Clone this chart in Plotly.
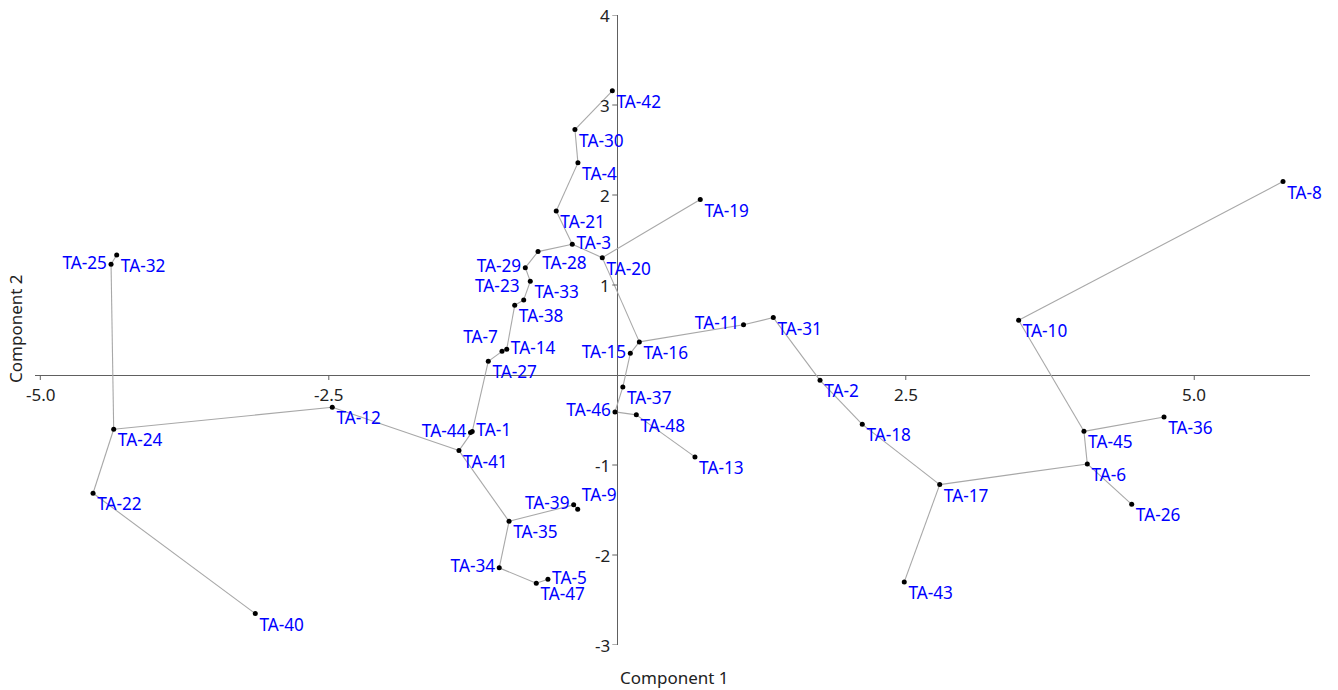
import plotly.graph_objects as go

# ---- data ----
labels = ["TA-1", "TA-2", "TA-3", "TA-4", "TA-5", "TA-6", "TA-7", "TA-8", "TA-9", "TA-10",
          "TA-11", "TA-12", "TA-13", "TA-14", "TA-15", "TA-16", "TA-17", "TA-18", "TA-19", "TA-20",
          "TA-21", "TA-22", "TA-23", "TA-24", "TA-25", "TA-26", "TA-27", "TA-28", "TA-29", "TA-30",
          "TA-31", "TA-32", "TA-33", "TA-34", "TA-35", "TA-36", "TA-37", "TA-38", "TA-39", "TA-40",
          "TA-41", "TA-42", "TA-43", "TA-44", "TA-45", "TA-46", "TA-47", "TA-48"]

comp1 = [-1.257, 1.757, -0.390, -0.341, -0.601, 4.073, -0.999, 5.769, -0.343, 3.478,
         1.094, -2.470, 0.673, -0.958, 0.113, 0.191, 2.794, 2.123, 0.719, -0.130,
         -0.529, -4.543, -0.811, -4.364, -4.387, 4.458, -1.118, -0.687, -0.797, -0.367,
         1.352, -4.338, -0.754, -1.023, -0.938, 4.738, 0.048, -0.889, -0.378, -3.137,
         -1.372, -0.043, 2.487, -1.272, 4.044, -0.020, -0.702, 0.165]

comp2 = [-0.629, -0.059, 1.452, 2.357, -2.270, -0.988, 0.263, 2.149, -1.492, 0.608,
         0.558, -0.359, -0.910, 0.286, 0.241, 0.368, -1.218, -0.548, 1.949, 1.304,
         1.823, -1.314, 0.834, -0.603, 1.230, -1.437, 0.152, 1.371, 1.193, 2.727,
         0.638, 1.334, 1.041, -2.143, -1.626, -0.466, -0.134, 0.774, -1.443, -2.651,
         -0.840, 3.157, -2.299, -0.640, -0.626, -0.410, -2.314, -0.443]

# minimum spanning tree edges (pairs of labels)
edges = [("TA-32", "TA-25"), ("TA-25", "TA-24"), ("TA-24", "TA-22"), ("TA-22", "TA-40"),
         ("TA-24", "TA-12"), ("TA-12", "TA-41"), ("TA-41", "TA-1"), ("TA-1", "TA-27"),
         ("TA-41", "TA-35"), ("TA-35", "TA-39"), ("TA-39", "TA-9"), ("TA-35", "TA-34"),
         ("TA-34", "TA-47"), ("TA-47", "TA-5"), ("TA-44", "TA-1"), ("TA-27", "TA-7"),
         ("TA-7", "TA-14"), ("TA-14", "TA-38"), ("TA-38", "TA-23"), ("TA-23", "TA-33"),
         ("TA-33", "TA-29"), ("TA-29", "TA-28"), ("TA-28", "TA-3"), ("TA-3", "TA-21"),
         ("TA-21", "TA-4"), ("TA-4", "TA-30"), ("TA-30", "TA-42"), ("TA-3", "TA-20"),
         ("TA-20", "TA-19"), ("TA-20", "TA-16"), ("TA-16", "TA-15"), ("TA-15", "TA-37"),
         ("TA-37", "TA-46"), ("TA-46", "TA-48"), ("TA-48", "TA-13"), ("TA-16", "TA-11"),
         ("TA-11", "TA-31"), ("TA-31", "TA-2"), ("TA-2", "TA-18"), ("TA-18", "TA-17"),
         ("TA-17", "TA-43"), ("TA-17", "TA-6"), ("TA-6", "TA-45"), ("TA-6", "TA-26"),
         ("TA-45", "TA-36"), ("TA-45", "TA-10"), ("TA-10", "TA-8")]

x_ticks = [-5.0, -2.5, 2.5, 5.0]
x_tick_text = ["-5.0", "-2.5", "2.5", "5.0"]
y_ticks = [4, 3, 2, 1, -1, -2, -3]
y_tick_text = ["4", "3", "2", "1", "-1", "-2", "-3"]

# label placement per point (style only)
left_labels = {"TA-25", "TA-29", "TA-11", "TA-15", "TA-46", "TA-44", "TA-39", "TA-34"}
right_labels = {"TA-3", "TA-14", "TA-1", "TA-5"}
top_left_labels = {"TA-23", "TA-7"}
top_right_labels = {"TA-9"}


def pos_for(lbl):
    if lbl in left_labels:
        return "middle left"
    if lbl in right_labels:
        return "middle right"
    if lbl in top_left_labels:
        return "top left"
    if lbl in top_right_labels:
        return "top right"
    return "bottom right"


idx = {l: i for i, l in enumerate(labels)}
ex, ey = [], []
for a, b in edges:
    ex += [comp1[idx[a]], comp1[idx[b]], None]
    ey += [comp2[idx[a]], comp2[idx[b]], None]

FONT = "Noto Sans, Open Sans, DejaVu Sans, sans-serif"

fig = go.Figure()
fig.add_trace(go.Scatter(x=ex, y=ey, mode="lines",
                         line=dict(color="#a8a8a8", width=1.1),
                         hoverinfo="skip", showlegend=False))
fig.add_trace(go.Scatter(x=comp1, y=comp2, mode="markers+text",
                         text=labels, textposition=[pos_for(l) for l in labels],
                         textfont=dict(family=FONT, size=17.2, color="#0000ff"),
                         marker=dict(color="black", size=5),
                         cliponaxis=False, showlegend=False))

# tick marks
shapes = []
for t in x_ticks:
    shapes.append(dict(type="line", xref="x", yref="y", x0=t, x1=t,
                       ysizemode="pixel", yanchor=0, y0=0, y1=-5,
                       line=dict(color="#606060", width=1)))
for t in y_ticks:
    shapes.append(dict(type="line", xref="x", yref="y", y0=t, y1=t,
                       xsizemode="pixel", xanchor=0, x0=-5, x1=0,
                       line=dict(color="#606060", width=1)))

annotations = []
for t, s in zip(x_ticks, x_tick_text):
    annotations.append(dict(x=t, y=0, xref="x", yref="y", text=s, showarrow=False,
                            yshift=-19, font=dict(family=FONT, size=17, color="#222222")))
for t, s in zip(y_ticks, y_tick_text):
    annotations.append(dict(x=0, y=t, xref="x", yref="y", text=s, showarrow=False,
                            xanchor="right", xshift=-5,
                            font=dict(family=FONT, size=17, color="#222222")))
annotations.append(dict(x=0.5, y=-0.052, xref="x", yref="paper", text="Component 1",
                        showarrow=False, yanchor="middle",
                        font=dict(family=FONT, size=17, color="#222222")))
annotations.append(dict(x=-0.0149, y=0.5016, xref="paper", yref="paper", text="Component 2",
                        showarrow=False, textangle=-90, xanchor="center", yanchor="middle",
                        font=dict(family=FONT, size=17, color="#222222")))

fig.update_layout(
    width=1338, height=690,
    margin=dict(l=35, r=28, t=15, b=45),
    paper_bgcolor="white", plot_bgcolor="white",
    shapes=shapes, annotations=annotations,
    hovermode=False,
    xaxis=dict(range=[-5.046, 6.003], showgrid=False, showticklabels=False, ticks="",
               zeroline=True, zerolinecolor="#606060", zerolinewidth=1.3, showline=False),
    yaxis=dict(range=[-3, 4], showgrid=False, showticklabels=False, ticks="",
               zeroline=True, zerolinecolor="#606060", zerolinewidth=1.3, showline=False),
)

fig.write_html("out.html", config={"displayModeBar": False},
               post_script="document.body.style.margin='0px';document.body.style.overflow='hidden';")
